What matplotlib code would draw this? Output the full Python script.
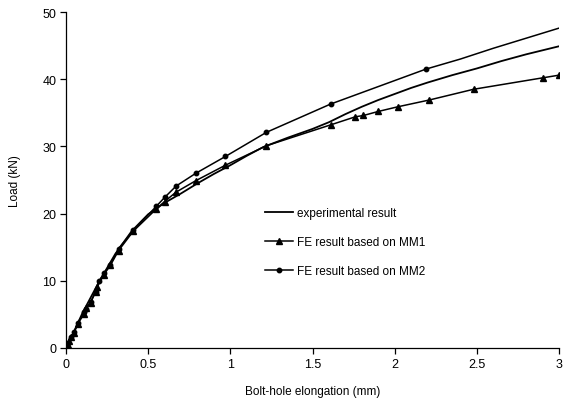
import matplotlib
matplotlib.use("Agg")
from matplotlib import pyplot as plt

plt.rcParams['font.family'] = ['Liberation Sans', 'DejaVu Sans']

# experimental curve (no markers)
exp_x = [0, 0.02, 0.05, 0.1, 0.15, 0.2, 0.3, 0.4, 0.5, 0.6, 0.7, 0.8, 0.9, 1.0,
         1.1, 1.2, 1.35, 1.5, 1.6, 1.7, 1.8, 1.9, 2.0, 2.1, 2.2, 2.35, 2.5,
         2.65, 2.8, 2.9, 3.0]
exp_y = [0, 1.0, 2.5, 5.2, 7.5, 9.8, 14.0, 17.4, 19.9, 21.6, 23.0, 24.5, 25.9, 27.2,
         28.6, 29.9, 31.3, 32.6, 33.6, 34.8, 35.9, 36.9, 37.8, 38.7, 39.5, 40.6, 41.6,
         42.7, 43.7, 44.3, 44.9]

# FE result based on MM1 (triangles)
mm1_x = [0, 0.01, 0.02, 0.03, 0.05, 0.07, 0.11, 0.12, 0.15, 0.18, 0.19, 0.23, 0.27,
         0.32, 0.41, 0.55, 0.6, 0.67, 0.79, 0.97, 1.22, 1.61, 1.76, 1.81, 1.9,
         2.02, 2.21, 2.48, 2.9, 3.0]
mm1_y = [0, 0.5, 1.0, 1.6, 2.3, 3.5, 5.1, 5.9, 6.7, 8.4, 9.1, 10.9, 12.3,
         14.5, 17.4, 20.7, 21.8, 23.2, 24.9, 27.2, 30.1, 33.2, 34.4, 34.6, 35.2,
         35.9, 36.9, 38.5, 40.2, 40.6]

# FE result based on MM2 (circles); the curve continues past the last marker
mm2_x = [0, 0.01, 0.03, 0.05, 0.07, 0.11, 0.12, 0.15, 0.18, 0.2, 0.23, 0.27, 0.32,
         0.41, 0.55, 0.6, 0.67, 0.79, 0.97, 1.22, 1.61, 2.19]
mm2_y = [0, 0.8, 1.6, 2.4, 3.7, 5.3, 5.8, 6.9, 8.4, 9.9, 11.1, 12.4, 14.8,
         17.5, 21.1, 22.4, 24.1, 26.0, 28.5, 32.1, 36.3, 41.5]
mm2_tail_x = [2.19, 2.4, 2.6, 2.8, 3.0]
mm2_tail_y = [41.5, 43.0, 44.6, 46.1, 47.6]

fig = plt.figure(figsize=(5.63, 4.02), dpi=100)
ax = fig.add_axes([66 / 563, 1 - 349 / 402, 493 / 563, 336 / 402])

ax.plot(exp_x, exp_y, color='black', lw=1.3, label='experimental result')
ax.plot(mm1_x, mm1_y, color='black', lw=1.1, marker='^', ms=4,
        label='FE result based on MM1')
ax.plot(mm2_x, mm2_y, color='black', lw=1.1, marker='o', ms=3.2,
        label='FE result based on MM2')
ax.plot(mm2_tail_x, mm2_tail_y, color='black', lw=1.1)

ax.set_xlim(0, 3)
ax.set_ylim(0, 50)
ax.set_xticks([0, 0.5, 1, 1.5, 2, 2.5, 3])
ax.set_xticklabels(['0', '0.5', '1', '1.5', '2', '2.5', '3'])
ax.set_yticks([0, 10, 20, 30, 40, 50])

for s in ['top', 'right']:
    ax.spines[s].set_visible(False)
for s in ['left', 'bottom']:
    ax.spines[s].set_linewidth(0.9)
ax.tick_params(direction='out', length=4, width=0.9, labelsize=9, pad=3)

ax.set_xlabel('Bolt-hole elongation (mm)', fontsize=8.5, labelpad=11)
ax.set_ylabel('Load (kN)', fontsize=8.5, labelpad=15)

ax.legend(loc='upper left', bbox_to_anchor=(265 / 563, 1 - 208 / 402),
          bbox_transform=fig.transFigure, frameon=False, fontsize=8.5,
          handlelength=2.4, handletextpad=0.3, labelspacing=1.45,
          borderpad=0, borderaxespad=0)

fig.savefig('out.png', dpi=100)
